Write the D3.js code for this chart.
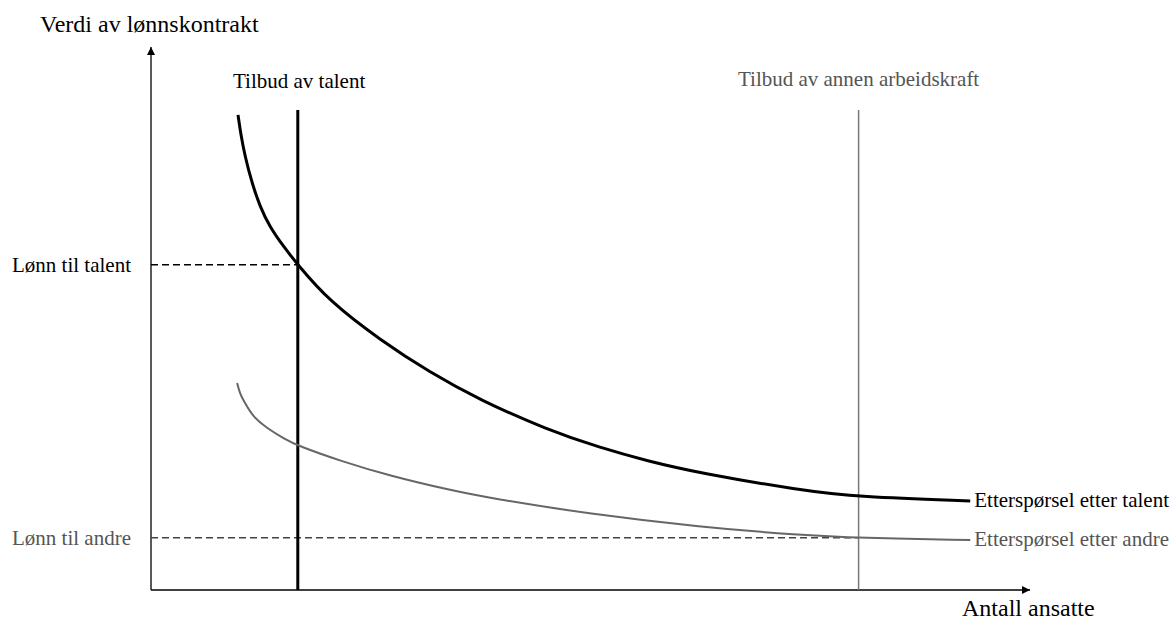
<!DOCTYPE html>
<html>
<head>
<meta charset="utf-8">
<script src="https://cdn.jsdelivr.net/npm/d3@7"></script>
<style>
    body { margin: 0; background: #fff; }
    text { font-family: "Liberation Serif", "DejaVu Serif", serif; }
</style>
</head>
<body>
<div id="chart"></div>
<script>

// Demand for talent (x = employees, y = value of wage contract)
const talentDemandX = [0.99, 1.02, 1.07, 1.15, 1.24, 1.35, 1.51, 1.67, 2.02, 2.61, 3.17, 3.74, 4.51, 5.11, 5.64, 6.25, 7.38, 8.05, 9.32];
const talentDemandY = [8.75, 8.41, 7.98, 7.49, 7.06, 6.69, 6.32, 5.99, 5.33, 4.60, 4.01, 3.50, 2.95, 2.62, 2.38, 2.15, 1.84, 1.71, 1.64];

// Demand for other labour
const otherDemandX = [0.98, 1.01, 1.07, 1.16, 1.32, 1.51, 1.68, 2.15, 2.72, 3.40, 3.86, 4.99, 6.25, 7.38, 8.05, 9.32];
const otherDemandY = [3.81, 3.62, 3.44, 3.19, 2.98, 2.79, 2.65, 2.38, 2.10, 1.84, 1.69, 1.40, 1.16, 1.01, 0.96, 0.92];

// Supply lines (vertical) and wage levels
const supplyX = [1.67, 8.05];
const supplyTop = 8.84;
const wageLevels = [5.99, 0.96];

const supplyLabels = ["Tilbud av talent", "Tilbud av annen arbeidskraft"];
const wageLabels = ["Lønn til talent", "Lønn til andre"];
const demandLabels = ["Etterspørsel etter talent", "Etterspørsel etter andre"];
const yTitle = "Verdi av lønnskontrakt";
const xTitle = "Antall ansatte";

const width = 1172, height = 620;

const svg = d3.select("#chart").append("svg")
    .attr("width", width)
    .attr("height", height);

// Scales
const x = d3.scaleLinear().domain([0, 10]).range([151, 1030]);
const y = d3.scaleLinear().domain([0, 10]).range([590, 47]);

// Arrow heads
const defs = svg.append("defs");
defs.append("marker")
    .attr("id", "arrow")
    .attr("viewBox", "0 0 10 10")
    .attr("refX", 10).attr("refY", 5)
    .attr("markerWidth", 9).attr("markerHeight", 8)
    .attr("markerUnits", "userSpaceOnUse")
    .attr("orient", "auto")
    .append("path")
    .attr("d", "M0,0 L10,5 L0,10 Z")
    .attr("fill", "#000");

// Axes
svg.append("line")
    .attr("x1", x(0)).attr("y1", y(0))
    .attr("x2", x(10)).attr("y2", y(0))
    .attr("stroke", "#000").attr("stroke-width", 1.3)
    .attr("marker-end", "url(#arrow)");

svg.append("line")
    .attr("x1", x(0)).attr("y1", y(0))
    .attr("x2", x(0)).attr("y2", y(10))
    .attr("stroke", "#000").attr("stroke-width", 1.3)
    .attr("marker-end", "url(#arrow)");

const colors = ["#000", "#666"];
const textColors = ["#000", "#555"];

// Dashed wage lines
wageLevels.forEach((w, i) => {
    svg.append("line")
        .attr("x1", x(0)).attr("y1", y(w))
        .attr("x2", x(supplyX[i])).attr("y2", y(w))
        .attr("stroke", i === 0 ? "#000" : "#444")
        .attr("stroke-width", 1.5)
        .attr("stroke-dasharray", "7,4");

    svg.append("text")
        .attr("x", 12)
        .attr("y", y(w) + 7)
        .attr("font-size", 21)
        .attr("fill", textColors[i])
        .text(wageLabels[i]);
});

// Supply lines
supplyX.forEach((s, i) => {
    svg.append("line")
        .attr("x1", x(s)).attr("y1", y(0))
        .attr("x2", x(s)).attr("y2", y(supplyTop))
        .attr("stroke", i === 0 ? "#000" : "#777")
        .attr("stroke-width", i === 0 ? 3 : 1.5);
});

svg.append("text")
    .attr("x", 233).attr("y", 88)
    .attr("font-size", 21)
    .attr("fill", textColors[0])
    .text(supplyLabels[0]);

svg.append("text")
    .attr("x", x(supplyX[1])).attr("y", 86)
    .attr("text-anchor", "middle")
    .attr("font-size", 21)
    .attr("fill", textColors[1])
    .text(supplyLabels[1]);

// Demand curves (basis spline for a smooth hand-drawn look)
const line = d3.line()
    .x(d => x(d[0]))
    .y(d => y(d[1]))
    .curve(d3.curveBasis);

const curves = [
    d3.zip(talentDemandX, talentDemandY),
    d3.zip(otherDemandX, otherDemandY)
];

curves.forEach((c, i) => {
    svg.append("path")
        .datum(c)
        .attr("d", line)
        .attr("fill", "none")
        .attr("stroke", colors[i])
        .attr("stroke-width", i === 0 ? 3 : 2);

    const last = c[c.length - 1];
    svg.append("text")
        .attr("x", x(last[0]) + 4)
        .attr("y", y(last[1]) + 6)
        .attr("font-size", 21)
        .attr("fill", textColors[i])
        .text(demandLabels[i]);
});

// Axis titles
svg.append("text")
    .attr("x", 40).attr("y", 32)
    .attr("font-size", 24)
    .attr("fill", "#000")
    .text(yTitle);

svg.append("text")
    .attr("x", 962).attr("y", 616)
    .attr("font-size", 24)
    .attr("fill", "#000")
    .text(xTitle);

</script>
</body>
</html>
